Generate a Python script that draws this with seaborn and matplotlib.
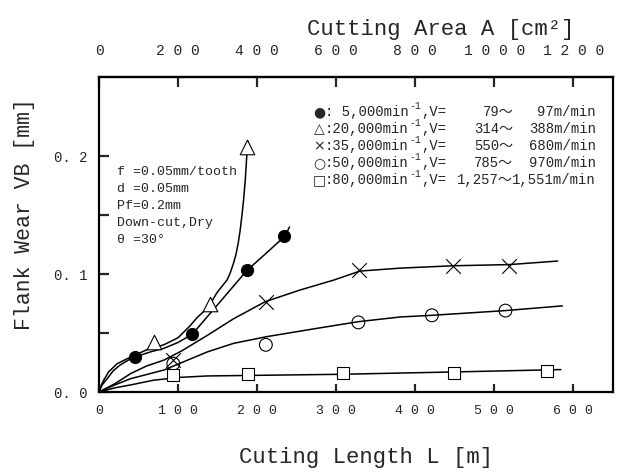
import matplotlib
matplotlib.use("Agg")
import matplotlib.pyplot as plt
import seaborn as sns

# ---------------- data ----------------
# measured points: cutting length L [m], flank wear VB [mm]
L_5k = [46, 118, 187, 234]
VB_5k = [0.030, 0.049, 0.103, 0.132]
L_20k = [70, 140, 187]
VB_20k = [0.042, 0.075, 0.208]
L_35k = [94, 211, 329, 448, 519]
VB_35k = [0.027, 0.076, 0.103, 0.107, 0.107]
L_50k = [94, 211, 328, 421, 514]
VB_50k = [0.024, 0.040, 0.059, 0.065, 0.069]
L_80k = [94, 189, 309, 449, 567]
VB_80k = [0.014, 0.015, 0.016, 0.016, 0.018]

# fitted curves as drawn
cL_5k = [0, 4, 10, 18, 27, 37, 47, 65, 82, 100, 118, 150, 187, 212, 235, 241]
cVB_5k = [0, 0.006, 0.011, 0.018, 0.023, 0.027, 0.030, 0.034, 0.037, 0.042,
          0.049, 0.074, 0.103, 0.118, 0.132, 0.140]
cL_20k = [0, 3, 6, 12, 23, 35, 48, 61, 82, 100, 115, 124, 132, 141, 149, 156,
          162, 166, 170, 173, 176, 178.5, 181, 183, 185, 186.5, 188]
cVB_20k = [0, 0.006, 0.010, 0.017, 0.024, 0.028, 0.032, 0.036, 0.040, 0.046,
           0.056, 0.063, 0.068, 0.075, 0.084, 0.090, 0.095, 0.101, 0.109, 0.116,
           0.126, 0.137, 0.151, 0.164, 0.180, 0.196, 0.213]
cL_35k = [0, 20, 40, 60, 82, 105, 137, 170, 210, 254, 297, 330, 381, 448, 519, 580]
cVB_35k = [0, 0.007, 0.0156, 0.022, 0.027, 0.035, 0.048, 0.062, 0.0765, 0.0864,
           0.0949, 0.1025, 0.105, 0.107, 0.108, 0.111]
cL_50k = [0, 20, 40, 82, 137, 170, 212, 276, 328, 381, 421, 514, 586]
cVB_50k = [0, 0.006, 0.0113, 0.0186, 0.034, 0.0412, 0.0469, 0.054, 0.0596,
           0.0636, 0.065, 0.069, 0.073]
cL_80k = [0, 20, 40, 69, 102, 137, 305, 449, 584]
cVB_80k = [0, 0.0035, 0.006, 0.010, 0.0124, 0.0136, 0.015, 0.017, 0.019]

x_ticks = [0, 100, 200, 300, 400, 500, 600]
x_ticklabels = ["0", "1 0 0", "2 0 0", "3 0 0", "4 0 0", "5 0 0", "6 0 0"]
y_ticks = [0.0, 0.1, 0.2]
y_ticklabels = ["0. 0", "0. 1", "0. 2"]
y_minor = [0.05, 0.15]
top_ticks = [0, 200, 400, 600, 800, 1000, 1200]
top_ticklabels = ["0", "2 0 0", "4 0 0", "6 0 0", "8 0 0", "1 0 0 0", "1 2 0 0"]

legend_marks = ["●", "△", "×", "○", "□"]
legend_speed = [": 5,000min", ":20,000min", ":35,000min", ":50,000min", ":80,000min"]
legend_vlow = ["79～", "314～", "550～", "785～", "1,257～"]
legend_vhigh = ["97m/min", "388m/min", "680m/min", "970m/min", "1,551m/min"]
cond_lines = ["f =0.05mm/tooth", "d =0.05mm", "Pf=0.2mm", "Down-cut,Dry", "θ =30°"]

# ---------------- style ----------------
sns.set_style("ticks")
MONO = ["Liberation Mono", "DejaVu Sans Mono", "DejaVu Sans"]
plt.rcParams["font.family"] = MONO

W, H = 617, 474
fig = plt.figure(figsize=(W / 100, H / 100), dpi=100)
ax = fig.add_axes([99 / W, 1 - 392 / H, (613 - 99) / W, (392 - 77) / H])


def fx(px):
    return px / W


def fy(py):
    return 1 - py / H


# curves
for cl, cv in [(cL_5k, cVB_5k), (cL_20k, cVB_20k), (cL_35k, cVB_35k),
               (cL_50k, cVB_50k), (cL_80k, cVB_80k)]:
    sns.lineplot(x=cl, y=cv, ax=ax, color="black", linewidth=1.1,
                 estimator=None, sort=False, zorder=2)

# markers
sns.scatterplot(x=L_5k, y=VB_5k, ax=ax, marker="o", s=75, color="black",
                edgecolor="black", linewidth=0.8, zorder=3)
sns.scatterplot(x=L_20k, y=VB_20k, ax=ax, marker="^", s=110, facecolor="white",
                edgecolor="black", linewidth=0.8, zorder=3)
sns.scatterplot(x=L_35k, y=VB_35k, ax=ax, marker="x", s=110, color="black",
                linewidth=0.8, zorder=3)
sns.scatterplot(x=L_50k, y=VB_50k, ax=ax, marker="o", s=85, facecolor="none",
                edgecolor="black", linewidth=0.8, zorder=3)
sns.scatterplot(x=L_80k, y=VB_80k, ax=ax, marker="s", s=85, facecolor="white",
                edgecolor="black", linewidth=0.8, zorder=3)

ax.set_xlim(0, 650)
ax.set_ylim(0, 0.267)

for s in ax.spines.values():
    s.set_linewidth(1.6)
    s.set_visible(True)
    s.set_color("black")

ax.set_xticks(x_ticks)
ax.set_xticklabels(x_ticklabels)
ax.set_yticks(y_ticks)
ax.set_yticklabels(y_ticklabels)
ax.set_yticks(y_minor, minor=True)
ax.tick_params(axis="x", which="major", direction="in", length=6, width=1.6,
               pad=9, labelsize=9.5)
ax.tick_params(axis="y", which="major", direction="in", length=7, width=1.6,
               pad=8, labelsize=10)
ax.tick_params(axis="y", which="minor", direction="in", length=7, width=1.6)
ax.tick_params(top=False, right=False)

secax = ax.secondary_xaxis("top", functions=(lambda v: v * 2.0, lambda v: v / 2.0))
secax.set_xticks(top_ticks)
secax.set_xticklabels(top_ticklabels)
secax.tick_params(direction="in", length=7, width=1.6, pad=14, labelsize=10.5)
secax.spines["top"].set_linewidth(1.6)

ax.set_xlabel("")
ax.set_ylabel("")

# axis titles
fig.text(fx(441), fy(29), "Cutting Area A [cm²]", ha="center", va="center",
         fontsize=16)
fig.text(fx(366), fy(457), "Cuting Length L [m]", ha="center", va="center",
         fontsize=16)
fig.text(fx(25), fy(214), "Flank Wear VB [mm]", ha="center", va="center",
         rotation=90, fontsize=15.5)

# conditions
for i, t in enumerate(cond_lines):
    fig.text(fx(117), fy(172 + 17 * i), t, ha="left", va="center", fontsize=9.5)

# legend block
rows_y = [112, 129, 146, 163, 180]
for i in range(5):
    y = fy(rows_y[i])
    fig.text(fx(319), y, legend_marks[i], ha="center", va="center",
             fontsize=10, family=["DejaVu Sans"])
    fig.text(fx(325), y, legend_speed[i], ha="left", va="center", fontsize=10)
    fig.text(fx(409), y + 6 / H, "-1", ha="left", va="center", fontsize=7)
    fig.text(fx(421), y, ",V=", ha="left", va="center", fontsize=10)
    fig.text(fx(513), y, legend_vlow[i], ha="right", va="center", fontsize=10,
             family=["Liberation Mono", "Noto Sans CJK JP"])
    fig.text(fx(596), y, legend_vhigh[i], ha="right", va="center", fontsize=10)

fig.savefig("out.png", dpi=100)
